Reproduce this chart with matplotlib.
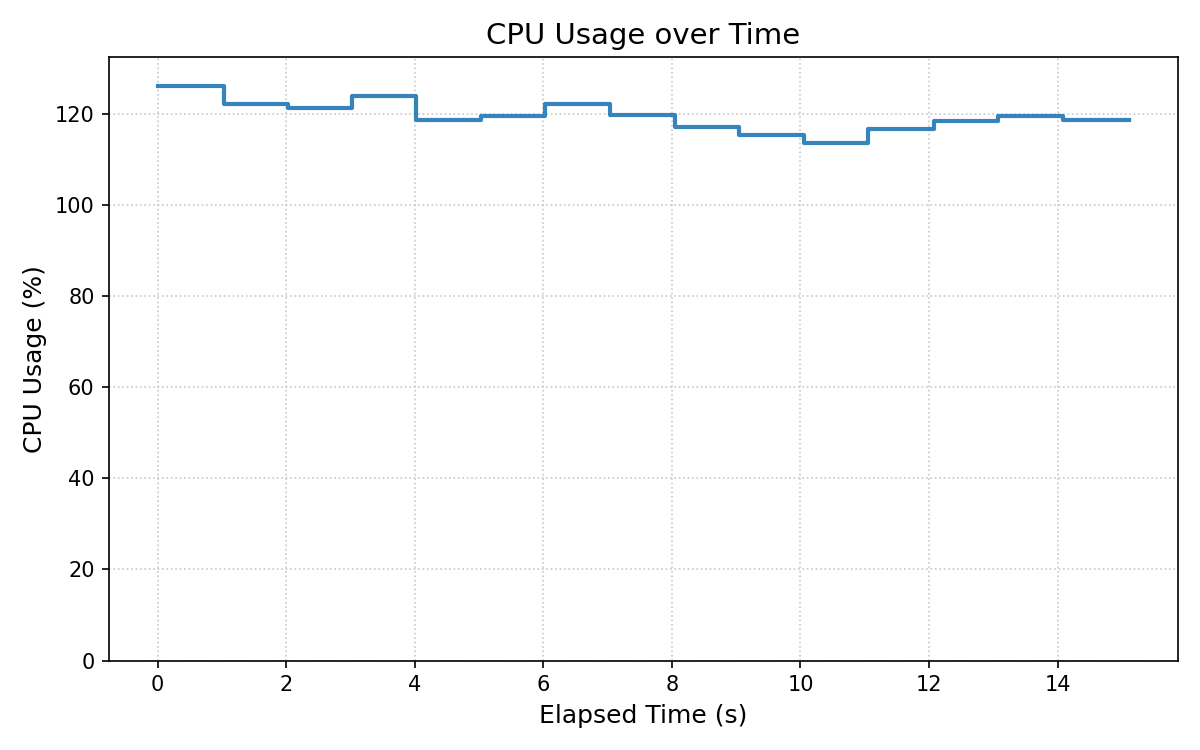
import numpy as np
import matplotlib.pyplot as plt

# sample times (s) and CPU usage (%)
elapsed = [0.0, 1.03, 2.03, 3.02, 4.02, 5.03, 6.03, 7.04, 8.04, 9.05,
           10.06, 11.05, 12.07, 13.07, 14.08, 15.11]
cpu = [126.1, 122.2, 121.3, 123.8, 118.6, 119.5, 122.2, 119.7, 117.1, 115.3,
       113.6, 116.7, 118.4, 119.5, 118.6, 118.6]

fig, ax = plt.subplots(figsize=(8, 5), dpi=150)
ax.step(elapsed, cpu, where='post', color='#1f77b4', alpha=0.9, lw=2)

ax.set_title('CPU Usage over Time', fontsize=14)
ax.set_xlabel('Elapsed Time (s)', fontsize=12)
ax.set_ylabel('CPU Usage (%)', fontsize=12)
ax.set_ylim(0, max(cpu) * 1.05)
ax.grid(True, linestyle=':', color='#bbbbbb', alpha=0.8)

plt.tight_layout()
plt.savefig('out.png')
